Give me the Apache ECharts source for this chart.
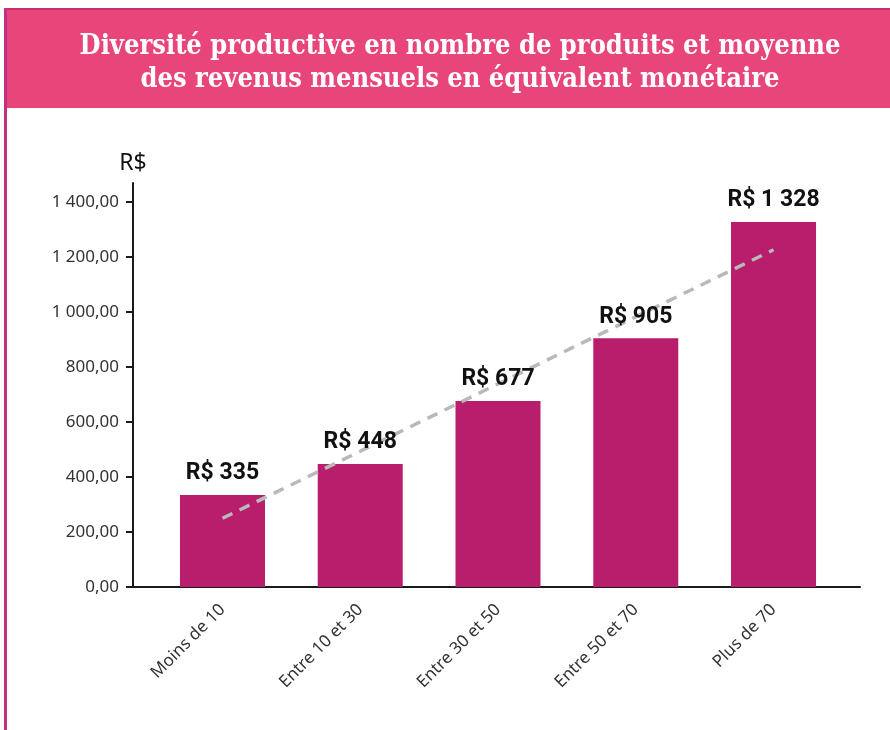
<!DOCTYPE html>
<html>
<head>
<meta charset="utf-8">
<script src="https://cdn.jsdelivr.net/npm/echarts@6/dist/echarts.min.js"></script>
<style>
  html, body { margin: 0; padding: 0; background: #ffffff; }
  #chart { width: 890px; height: 730px; }
</style>
</head>
<body>
<div id="chart"></div>
<script>
// données
const categories = ['Moins de 10', 'Entre 10 et 30', 'Entre 30 et 50', 'Entre 50 et 70', 'Plus de 70'];
const revenus = [335, 448, 677, 905, 1328];
const tendance = [250, 494, 739, 983, 1227];
const yTicks = [0, 200, 400, 600, 800, 1000, 1200, 1400];

const font = 'Noto Sans';

// 1400 -> "1 400,00"
function fmtMontant(v, dec) {
  let parts = v.toFixed(dec).split('.');
  let ent = parts[0].replace(/\B(?=(\d{3})+(?!\d))/g, ' ');
  return parts.length > 1 ? ent + ',' + parts[1] : ent;
}

let myChart = echarts.init(document.getElementById('chart'));
let option = {
  backgroundColor: '#ffffff',
  animation: false,
  title: {
    text: 'Diversité productive en nombre de produits et moyenne\ndes revenus mensuels en équivalent monétaire',
    left: 455,
    top: 25,
    textAlign: 'center',
    textStyle: {
      color: '#ffffff',
      fontSize: 27,
      lineHeight: 33,
      fontWeight: 'bold',
      fontFamily: 'DejaVu Serif Condensed, DejaVu Serif, serif'
    }
  },
  graphic: [
    { type: 'rect', shape: { x: 4, y: 8, width: 886, height: 100 }, style: { fill: '#e8457a' }, z: -1 },
    { type: 'rect', shape: { x: 4, y: 8, width: 886, height: 2 }, style: { fill: '#c52f70' }, z: -1 },
    { type: 'rect', shape: { x: 4, y: 8, width: 3, height: 722 }, style: { fill: '#c0307e' }, z: -1 }
  ],
  grid: [
    { left: 133, right: 30, top: 183, bottom: 143 },
    { left: 153.6, right: 47.6, top: 183, bottom: 143 }
  ],
  xAxis: [{
    type: 'value',
    gridIndex: 0,
    min: 0,
    max: 1,
    axisLine: { show: true, onZero: false, lineStyle: { color: '#1a1a1a', width: 2 } },
    axisTick: { show: false },
    axisLabel: { show: false },
    splitLine: { show: false }
  }, {
    type: 'category',
    gridIndex: 1,
    data: categories,
    axisLine: { show: false },
    axisTick: { show: false },
    axisLabel: {
      rotate: 45,
      margin: 20,
      fontSize: 17,
      color: '#333333',
      fontFamily: font
    }
  }],
  yAxis: [{
    type: 'value',
    gridIndex: 0,
    min: 0,
    max: 1470,
    interval: 200,
    name: 'R$',
    nameLocation: 'end',
    nameGap: 8,
    nameTextStyle: { fontSize: 23, color: '#111111', fontFamily: font, align: 'center' },
    axisLine: { show: true, lineStyle: { color: '#1a1a1a', width: 2 } },
    axisTick: { show: true, length: 7, customValues: yTicks, lineStyle: { color: '#1a1a1a', width: 2 } },
    axisLabel: {
      customValues: yTicks,
      margin: 14,
      fontSize: 17,
      color: '#333333',
      fontFamily: font,
      formatter: (v) => fmtMontant(v, 2)
    },
    splitLine: { show: false }
  }, {
    type: 'value',
    gridIndex: 1,
    min: 0,
    max: 1470,
    interval: 200,
    show: false,
    splitLine: { show: false }
  }],
  series: [{
    name: 'revenus',
    type: 'bar',
    xAxisIndex: 1,
    yAxisIndex: 1,
    barWidth: 85,
    barGap: '-100%',
    itemStyle: { color: '#b81e6b' },
    z: 2,
    data: revenus
  }, {
    name: 'tendance',
    type: 'line',
    xAxisIndex: 1,
    yAxisIndex: 1,
    symbol: 'none',
    lineStyle: { color: '#b9b9b9', width: 3.5, type: [11, 8] },
    z: 3,
    data: tendance
  }, {
    // étiquettes au-dessus de la ligne de tendance
    name: 'etiquettes',
    type: 'bar',
    xAxisIndex: 1,
    yAxisIndex: 1,
    barWidth: 85,
    barGap: '-100%',
    silent: true,
    itemStyle: { color: 'transparent' },
    label: {
      show: true,
      position: 'top',
      distance: 10,
      fontSize: 23,
      fontWeight: 'bold',
      color: '#111111',
      fontFamily: 'Roboto',
      formatter: (p) => 'R$ ' + fmtMontant(p.value, 0)
    },
    z: 4,
    data: revenus
  }]
};
myChart.setOption(option);
</script>
</body>
</html>
